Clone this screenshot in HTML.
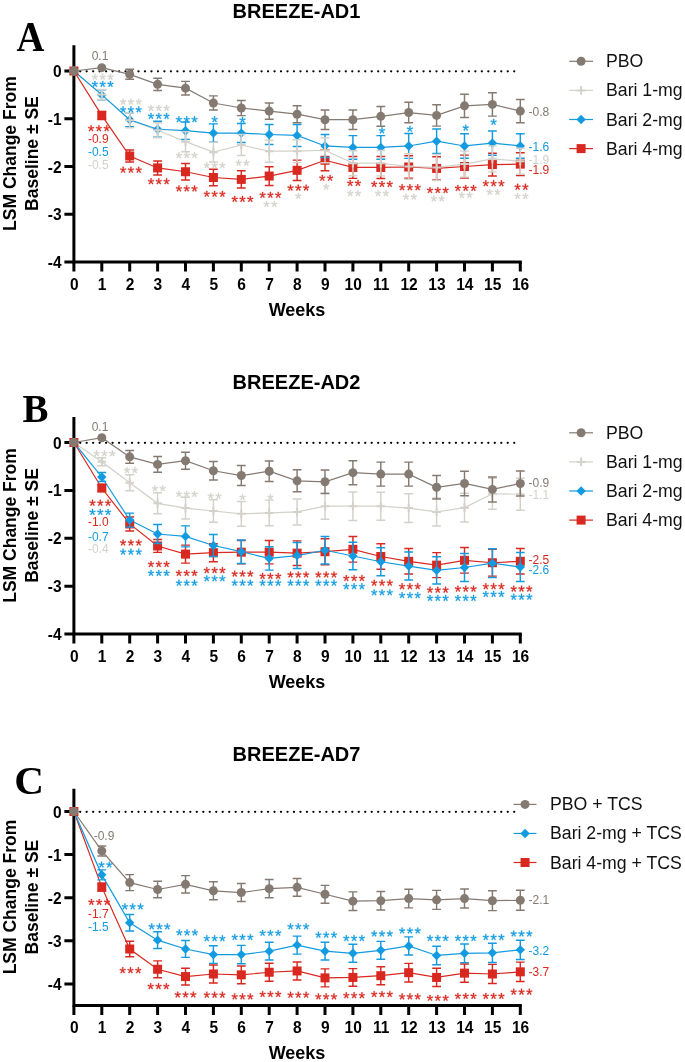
<!DOCTYPE html>
<html><head><meta charset="utf-8"><title>BREEZE</title>
<style>
html,body{margin:0;padding:0;background:#fff;}
svg{display:block;will-change:transform;}
text{font-family:"Liberation Sans",sans-serif;}
.tt{font-weight:bold;font-size:20px;fill:#000;}
.lt{font-family:"Liberation Serif",serif;font-weight:bold;font-size:40px;fill:#000;}
.yl{font-weight:bold;font-size:17.5px;fill:#000;}
.tk{font-weight:bold;font-size:15.5px;fill:#000;}
.wk{font-weight:bold;font-size:18px;fill:#000;}
.vl{font-size:12px;}
.lg{font-size:17.7px;fill:#111;}
</style></head>
<body>
<svg width="685" height="1062" viewBox="0 0 685 1062">
<defs><path id="st" stroke-width="40" stroke-linejoin="round" d="M456 1114 720 1217 765 1085 483 1012 668 762 549 690 399 948 243 692 124 764 313 1012 33 1085 78 1219 345 1112 333 1409H469Z" transform="scale(0.0082 -0.0082) translate(-399 -1050)"/></defs>
<rect width="685" height="1062" fill="#fff"/>
<text x="296.5" y="17.7" text-anchor="middle" class="tt">BREEZE-AD1</text>
<text transform="translate(16.5 51.4) scale(0.93 1)" class="lt" style="font-size:41.5px">A</text>
<text transform="translate(16.2 153.6) rotate(-90)" text-anchor="middle" class="yl">LSM Change From</text>
<text transform="translate(37.8 153.6) rotate(-90)" text-anchor="middle" class="yl">Baseline ± SE</text>
<path d="M73.9 45.2V263.5M72.4 262H521.8" stroke="#000" stroke-width="3" fill="none"/>
<path d="M73.9 262v9.5M101.8 262v9.5M129.7 262v9.5M157.6 262v9.5M185.5 262v9.5M213.4 262v9.5M241.3 262v9.5M269.2 262v9.5M297.1 262v9.5M325 262v9.5M352.9 262v9.5M380.8 262v9.5M408.7 262v9.5M436.6 262v9.5M464.5 262v9.5M492.4 262v9.5M520.3 262v9.5M73.9 71h-9.5M73.9 118.75h-9.5M73.9 166.5h-9.5M73.9 214.25h-9.5M73.9 262h-9.5" stroke="#000" stroke-width="3" fill="none"/>
<text transform="translate(74.2 289.6) scale(1 1.07)" text-anchor="middle" class="tk">0</text>
<text transform="translate(102.1 289.6) scale(1 1.07)" text-anchor="middle" class="tk">1</text>
<text transform="translate(130 289.6) scale(1 1.07)" text-anchor="middle" class="tk">2</text>
<text transform="translate(157.9 289.6) scale(1 1.07)" text-anchor="middle" class="tk">3</text>
<text transform="translate(185.8 289.6) scale(1 1.07)" text-anchor="middle" class="tk">4</text>
<text transform="translate(213.7 289.6) scale(1 1.07)" text-anchor="middle" class="tk">5</text>
<text transform="translate(241.6 289.6) scale(1 1.07)" text-anchor="middle" class="tk">6</text>
<text transform="translate(269.5 289.6) scale(1 1.07)" text-anchor="middle" class="tk">7</text>
<text transform="translate(297.4 289.6) scale(1 1.07)" text-anchor="middle" class="tk">8</text>
<text transform="translate(325.3 289.6) scale(1 1.07)" text-anchor="middle" class="tk">9</text>
<text transform="translate(353.2 289.6) scale(1 1.07)" text-anchor="middle" class="tk">10</text>
<text transform="translate(381.1 289.6) scale(1 1.07)" text-anchor="middle" class="tk">11</text>
<text transform="translate(409 289.6) scale(1 1.07)" text-anchor="middle" class="tk">12</text>
<text transform="translate(436.9 289.6) scale(1 1.07)" text-anchor="middle" class="tk">13</text>
<text transform="translate(464.8 289.6) scale(1 1.07)" text-anchor="middle" class="tk">14</text>
<text transform="translate(492.7 289.6) scale(1 1.07)" text-anchor="middle" class="tk">15</text>
<text transform="translate(520.6 289.6) scale(1 1.07)" text-anchor="middle" class="tk">16</text>
<text transform="translate(61.6 77) scale(1 1.07)" text-anchor="end" class="tk">0</text>
<text transform="translate(61.6 124.75) scale(1 1.07)" text-anchor="end" class="tk">-1</text>
<text transform="translate(61.6 172.5) scale(1 1.07)" text-anchor="end" class="tk">-2</text>
<text transform="translate(61.6 220.25) scale(1 1.07)" text-anchor="end" class="tk">-3</text>
<text transform="translate(61.6 268) scale(1 1.07)" text-anchor="end" class="tk">-4</text>
<text x="297" y="315.5" text-anchor="middle" class="wk">Weeks</text>
<path d="M80.2 71.3H515" stroke="#000" stroke-width="2.3" stroke-linecap="round" stroke-dasharray="0.01 6.468" fill="none"/>
<polyline points="73.9,71 101.8,115.41 129.7,156 157.6,167.93 185.5,171.75 213.4,177.48 241.3,179.39 269.2,176.05 297.1,170.32 325,160.29 352.9,167.45 380.8,167.45 408.7,166.98 436.6,168.41 464.5,166.5 492.4,164.59 520.3,164.11" stroke="#d8281f" stroke-width="1.2" fill="none"/>
<polyline points="73.9,71 101.8,94.4 129.7,120.18 157.6,130.21 185.5,141.67 213.4,152.18 241.3,145.01 269.2,151.22 297.1,151.22 325,150.26 352.9,163.16 380.8,163.16 408.7,166.5 436.6,167.45 464.5,164.11 492.4,158.86 520.3,161.25" stroke="#d3d1ca" stroke-width="1.2" fill="none"/>
<polyline points="73.9,71 101.8,94.88 129.7,119.7 157.6,129.25 185.5,130.69 213.4,133.07 241.3,133.07 269.2,134.51 297.1,135.46 325,145.97 352.9,147.4 380.8,147.4 408.7,145.97 436.6,141.19 464.5,145.97 492.4,143.1 520.3,145.97" stroke="#129be0" stroke-width="1.2" fill="none"/>
<polyline points="73.9,71 101.8,67.66 129.7,74.34 157.6,84.37 185.5,88.19 213.4,102.99 241.3,108.01 269.2,111.11 297.1,114.21 325,119.7 352.9,119.7 380.8,116.36 408.7,112.54 436.6,115.41 464.5,105.86 492.4,104.42 520.3,111.11" stroke="#857a72" stroke-width="1.2" fill="none"/>
<path d="M101.8 111.41V119.41M97.4 111.41h8.8M97.4 119.41h8.8M129.7 150.09V161.9M125.3 150.09h8.8M125.3 161.9h8.8M157.6 160.93V174.93M153.2 160.93h8.8M153.2 174.93h8.8M185.5 163.55V179.95M181.1 163.55h8.8M181.1 179.95h8.8M213.4 169.28V185.68M209 169.28h8.8M209 185.68h8.8M241.3 170.69V188.09M236.9 170.69h8.8M236.9 188.09h8.8M269.2 166.65V185.45M264.8 166.65h8.8M264.8 185.45h8.8M297.1 160.12V180.52M292.7 160.12h8.8M292.7 180.52h8.8M325 149.79V170.79M320.6 149.79h8.8M320.6 170.79h8.8M352.9 156.55V178.35M348.5 156.55h8.8M348.5 178.35h8.8M380.8 156.45V178.45M376.4 156.45h8.8M376.4 178.45h8.8M408.7 155.78V178.18M404.3 155.78h8.8M404.3 178.18h8.8M436.6 156.81V180.01M432.2 156.81h8.8M432.2 180.01h8.8M464.5 155.1V177.9M460.1 155.1h8.8M460.1 177.9h8.8M492.4 153.19V175.99M488 153.19h8.8M488 175.99h8.8M520.3 152.71V175.51M515.9 152.71h8.8M515.9 175.51h8.8" stroke="#d8281f" stroke-width="1.45" fill="none"/>
<rect x="69.4" y="66.5" width="9" height="9" fill="#d8281f"/>
<rect x="97.3" y="110.91" width="9" height="9" fill="#d8281f"/>
<rect x="125.2" y="151.5" width="9" height="9" fill="#d8281f"/>
<rect x="153.1" y="163.43" width="9" height="9" fill="#d8281f"/>
<rect x="181" y="167.25" width="9" height="9" fill="#d8281f"/>
<rect x="208.9" y="172.98" width="9" height="9" fill="#d8281f"/>
<rect x="236.8" y="174.89" width="9" height="9" fill="#d8281f"/>
<rect x="264.7" y="171.55" width="9" height="9" fill="#d8281f"/>
<rect x="292.6" y="165.82" width="9" height="9" fill="#d8281f"/>
<rect x="320.5" y="155.79" width="9" height="9" fill="#d8281f"/>
<rect x="348.4" y="162.95" width="9" height="9" fill="#d8281f"/>
<rect x="376.3" y="162.95" width="9" height="9" fill="#d8281f"/>
<rect x="404.2" y="162.48" width="9" height="9" fill="#d8281f"/>
<rect x="432.1" y="163.91" width="9" height="9" fill="#d8281f"/>
<rect x="460" y="162" width="9" height="9" fill="#d8281f"/>
<rect x="487.9" y="160.09" width="9" height="9" fill="#d8281f"/>
<rect x="515.8" y="159.61" width="9" height="9" fill="#d8281f"/>
<path d="M101.8 89.88V99.88M97.4 89.88h8.8M97.4 99.88h8.8M129.7 112.7V126.7M125.3 112.7h8.8M125.3 126.7h8.8M157.6 121.25V137.25M153.2 121.25h8.8M153.2 137.25h8.8M185.5 121.99V139.39M181.1 121.99h8.8M181.1 139.39h8.8M213.4 123.87V142.27M209 123.87h8.8M209 142.27h8.8M241.3 123.57V142.57M236.9 123.57h8.8M236.9 142.57h8.8M269.2 124.51V144.51M264.8 124.51h8.8M264.8 144.51h8.8M297.1 124.46V146.46M292.7 124.46h8.8M292.7 146.46h8.8M325 134.47V157.47M320.6 134.47h8.8M320.6 157.47h8.8M352.9 135.6V159.2M348.5 135.6h8.8M348.5 159.2h8.8M380.8 135.6V159.2M376.4 135.6h8.8M376.4 159.2h8.8M408.7 133.57V158.37M404.3 133.57h8.8M404.3 158.37h8.8M436.6 128.99V153.39M432.2 128.99h8.8M432.2 153.39h8.8M464.5 133.77V158.17M460.1 133.77h8.8M460.1 158.17h8.8M492.4 130.9V155.3M488 130.9h8.8M488 155.3h8.8M520.3 133.77V158.17M515.9 133.77h8.8M515.9 158.17h8.8" stroke="#129be0" stroke-width="1.45" fill="none"/>
<path d="M73.9 66.3L78.6 71L73.9 75.7L69.2 71Z" fill="#129be0"/>
<path d="M101.8 90.17L106.5 94.88L101.8 99.58L97.1 94.88Z" fill="#129be0"/>
<path d="M129.7 115L134.4 119.7L129.7 124.41L125 119.7Z" fill="#129be0"/>
<path d="M157.6 124.55L162.3 129.25L157.6 133.95L152.9 129.25Z" fill="#129be0"/>
<path d="M185.5 125.99L190.2 130.69L185.5 135.39L180.8 130.69Z" fill="#129be0"/>
<path d="M213.4 128.38L218.1 133.07L213.4 137.77L208.7 133.07Z" fill="#129be0"/>
<path d="M241.3 128.38L246 133.07L241.3 137.77L236.6 133.07Z" fill="#129be0"/>
<path d="M269.2 129.81L273.9 134.51L269.2 139.21L264.5 134.51Z" fill="#129be0"/>
<path d="M297.1 130.76L301.8 135.46L297.1 140.16L292.4 135.46Z" fill="#129be0"/>
<path d="M325 141.27L329.7 145.97L325 150.67L320.3 145.97Z" fill="#129be0"/>
<path d="M352.9 142.7L357.6 147.4L352.9 152.1L348.2 147.4Z" fill="#129be0"/>
<path d="M380.8 142.7L385.5 147.4L380.8 152.1L376.1 147.4Z" fill="#129be0"/>
<path d="M408.7 141.27L413.4 145.97L408.7 150.67L404 145.97Z" fill="#129be0"/>
<path d="M436.6 136.49L441.3 141.19L436.6 145.89L431.9 141.19Z" fill="#129be0"/>
<path d="M464.5 141.27L469.2 145.97L464.5 150.67L459.8 145.97Z" fill="#129be0"/>
<path d="M492.4 138.4L497.1 143.1L492.4 147.8L487.7 143.1Z" fill="#129be0"/>
<path d="M520.3 141.27L525 145.97L520.3 150.67L515.6 145.97Z" fill="#129be0"/>
<path d="M101.8 89.4V99.4M97.4 89.4h8.8M97.4 99.4h8.8M129.7 112.68V127.68M125.3 112.68h8.8M125.3 127.68h8.8M157.6 122.71V137.71M153.2 122.71h8.8M153.2 137.71h8.8M185.5 131.67V151.67M181.1 131.67h8.8M181.1 151.67h8.8M213.4 142.38V161.98M209 142.38h8.8M209 161.98h8.8M241.3 134.51V155.51M236.9 134.51h8.8M236.9 155.51h8.8M269.2 140.22V162.22M264.8 140.22h8.8M264.8 162.22h8.8M297.1 139.82V162.62M292.7 139.82h8.8M292.7 162.62h8.8M325 137.76V162.76M320.6 137.76h8.8M320.6 162.76h8.8M352.9 150.66V175.66M348.5 150.66h8.8M348.5 175.66h8.8M380.8 150.46V175.86M376.4 150.46h8.8M376.4 175.86h8.8M408.7 153.8V179.2M404.3 153.8h8.8M404.3 179.2h8.8M436.6 154.45V180.45M432.2 154.45h8.8M432.2 180.45h8.8M464.5 151.11V177.11M460.1 151.11h8.8M460.1 177.11h8.8M492.4 145.86V171.86M488 145.86h8.8M488 171.86h8.8M520.3 148.25V174.25M515.9 148.25h8.8M515.9 174.25h8.8" stroke="#d3d1ca" stroke-width="1.45" fill="none"/>
<path d="M69.6 71H78.2M73.9 66.7V75.3" stroke="#d3d1ca" stroke-width="2" fill="none"/>
<path d="M97.5 94.4H106.1M101.8 90.1V98.7" stroke="#d3d1ca" stroke-width="2" fill="none"/>
<path d="M125.4 120.18H134M129.7 115.88V124.48" stroke="#d3d1ca" stroke-width="2" fill="none"/>
<path d="M153.3 130.21H161.9M157.6 125.91V134.51" stroke="#d3d1ca" stroke-width="2" fill="none"/>
<path d="M181.2 141.67H189.8M185.5 137.37V145.97" stroke="#d3d1ca" stroke-width="2" fill="none"/>
<path d="M209.1 152.18H217.7M213.4 147.88V156.48" stroke="#d3d1ca" stroke-width="2" fill="none"/>
<path d="M237 145.01H245.6M241.3 140.71V149.31" stroke="#d3d1ca" stroke-width="2" fill="none"/>
<path d="M264.9 151.22H273.5M269.2 146.92V155.52" stroke="#d3d1ca" stroke-width="2" fill="none"/>
<path d="M292.8 151.22H301.4M297.1 146.92V155.52" stroke="#d3d1ca" stroke-width="2" fill="none"/>
<path d="M320.7 150.26H329.3M325 145.96V154.56" stroke="#d3d1ca" stroke-width="2" fill="none"/>
<path d="M348.6 163.16H357.2M352.9 158.86V167.46" stroke="#d3d1ca" stroke-width="2" fill="none"/>
<path d="M376.5 163.16H385.1M380.8 158.86V167.46" stroke="#d3d1ca" stroke-width="2" fill="none"/>
<path d="M404.4 166.5H413M408.7 162.2V170.8" stroke="#d3d1ca" stroke-width="2" fill="none"/>
<path d="M432.3 167.45H440.9M436.6 163.15V171.75" stroke="#d3d1ca" stroke-width="2" fill="none"/>
<path d="M460.2 164.11H468.8M464.5 159.81V168.41" stroke="#d3d1ca" stroke-width="2" fill="none"/>
<path d="M488.1 158.86H496.7M492.4 154.56V163.16" stroke="#d3d1ca" stroke-width="2" fill="none"/>
<path d="M516 161.25H524.6M520.3 156.95V165.55" stroke="#d3d1ca" stroke-width="2" fill="none"/>
<path d="M129.7 69.34V79.34M125.3 69.34h8.8M125.3 79.34h8.8M157.6 78.17V90.57M153.2 78.17h8.8M153.2 90.57h8.8M185.5 81.39V94.99M181.1 81.39h8.8M181.1 94.99h8.8M213.4 95.89V110.09M209 95.89h8.8M209 110.09h8.8M241.3 100.41V115.61M236.9 100.41h8.8M236.9 115.61h8.8M269.2 102.91V119.31M264.8 102.91h8.8M264.8 119.31h8.8M297.1 105.71V122.71M292.7 105.71h8.8M292.7 122.71h8.8M325 110V129.41M320.6 110h8.8M320.6 129.41h8.8M352.9 110V129.41M348.5 110h8.8M348.5 129.41h8.8M380.8 106.46V126.26M376.4 106.46h8.8M376.4 126.26h8.8M408.7 102.24V122.84M404.3 102.24h8.8M404.3 122.84h8.8M436.6 104.71V126.11M432.2 104.71h8.8M432.2 126.11h8.8M464.5 94.16V117.56M460.1 94.16h8.8M460.1 117.56h8.8M492.4 92.72V116.12M488 92.72h8.8M488 116.12h8.8M520.3 99.41V122.81M515.9 99.41h8.8M515.9 122.81h8.8" stroke="#857a72" stroke-width="1.45" fill="none"/>
<circle cx="73.9" cy="71" r="4.5" fill="#857a72"/>
<circle cx="101.8" cy="67.66" r="4.5" fill="#857a72"/>
<circle cx="129.7" cy="74.34" r="4.5" fill="#857a72"/>
<circle cx="157.6" cy="84.37" r="4.5" fill="#857a72"/>
<circle cx="185.5" cy="88.19" r="4.5" fill="#857a72"/>
<circle cx="213.4" cy="102.99" r="4.5" fill="#857a72"/>
<circle cx="241.3" cy="108.01" r="4.5" fill="#857a72"/>
<circle cx="269.2" cy="111.11" r="4.5" fill="#857a72"/>
<circle cx="297.1" cy="114.21" r="4.5" fill="#857a72"/>
<circle cx="325" cy="119.7" r="4.5" fill="#857a72"/>
<circle cx="352.9" cy="119.7" r="4.5" fill="#857a72"/>
<circle cx="380.8" cy="116.36" r="4.5" fill="#857a72"/>
<circle cx="408.7" cy="112.54" r="4.5" fill="#857a72"/>
<circle cx="436.6" cy="115.41" r="4.5" fill="#857a72"/>
<circle cx="464.5" cy="105.86" r="4.5" fill="#857a72"/>
<circle cx="492.4" cy="104.42" r="4.5" fill="#857a72"/>
<circle cx="520.3" cy="111.11" r="4.5" fill="#857a72"/>
<use href="#st" x="94.9" y="76.8" fill="#d3d1ca" stroke="#d3d1ca"/>
<use href="#st" x="102.7" y="76.8" fill="#d3d1ca" stroke="#d3d1ca"/>
<use href="#st" x="110.5" y="76.8" fill="#d3d1ca" stroke="#d3d1ca"/>
<use href="#st" x="94.9" y="84" fill="#129be0" stroke="#129be0"/>
<use href="#st" x="102.7" y="84" fill="#129be0" stroke="#129be0"/>
<use href="#st" x="110.5" y="84" fill="#129be0" stroke="#129be0"/>
<use href="#st" x="91.1" y="128.3" fill="#d8281f" stroke="#d8281f"/>
<use href="#st" x="98.9" y="128.3" fill="#d8281f" stroke="#d8281f"/>
<use href="#st" x="106.7" y="128.3" fill="#d8281f" stroke="#d8281f"/>
<use href="#st" x="123.1" y="101.7" fill="#d3d1ca" stroke="#d3d1ca"/>
<use href="#st" x="130.9" y="101.7" fill="#d3d1ca" stroke="#d3d1ca"/>
<use href="#st" x="138.7" y="101.7" fill="#d3d1ca" stroke="#d3d1ca"/>
<use href="#st" x="123.1" y="109.5" fill="#129be0" stroke="#129be0"/>
<use href="#st" x="130.9" y="109.5" fill="#129be0" stroke="#129be0"/>
<use href="#st" x="138.7" y="109.5" fill="#129be0" stroke="#129be0"/>
<use href="#st" x="123.1" y="169.8" fill="#d8281f" stroke="#d8281f"/>
<use href="#st" x="130.9" y="169.8" fill="#d8281f" stroke="#d8281f"/>
<use href="#st" x="138.7" y="169.8" fill="#d8281f" stroke="#d8281f"/>
<use href="#st" x="151" y="108" fill="#d3d1ca" stroke="#d3d1ca"/>
<use href="#st" x="158.8" y="108" fill="#d3d1ca" stroke="#d3d1ca"/>
<use href="#st" x="166.6" y="108" fill="#d3d1ca" stroke="#d3d1ca"/>
<use href="#st" x="151" y="116" fill="#129be0" stroke="#129be0"/>
<use href="#st" x="158.8" y="116" fill="#129be0" stroke="#129be0"/>
<use href="#st" x="166.6" y="116" fill="#129be0" stroke="#129be0"/>
<use href="#st" x="151" y="181.3" fill="#d8281f" stroke="#d8281f"/>
<use href="#st" x="158.8" y="181.3" fill="#d8281f" stroke="#d8281f"/>
<use href="#st" x="166.6" y="181.3" fill="#d8281f" stroke="#d8281f"/>
<use href="#st" x="178.9" y="119.3" fill="#129be0" stroke="#129be0"/>
<use href="#st" x="186.7" y="119.3" fill="#129be0" stroke="#129be0"/>
<use href="#st" x="194.5" y="119.3" fill="#129be0" stroke="#129be0"/>
<use href="#st" x="178.9" y="155.2" fill="#d3d1ca" stroke="#d3d1ca"/>
<use href="#st" x="186.7" y="155.2" fill="#d3d1ca" stroke="#d3d1ca"/>
<use href="#st" x="194.5" y="155.2" fill="#d3d1ca" stroke="#d3d1ca"/>
<use href="#st" x="178.9" y="188.5" fill="#d8281f" stroke="#d8281f"/>
<use href="#st" x="186.7" y="188.5" fill="#d8281f" stroke="#d8281f"/>
<use href="#st" x="194.5" y="188.5" fill="#d8281f" stroke="#d8281f"/>
<use href="#st" x="214.6" y="119.3" fill="#129be0" stroke="#129be0"/>
<use href="#st" x="206.8" y="165.3" fill="#d3d1ca" stroke="#d3d1ca"/>
<use href="#st" x="214.6" y="165.3" fill="#d3d1ca" stroke="#d3d1ca"/>
<use href="#st" x="222.4" y="165.3" fill="#d3d1ca" stroke="#d3d1ca"/>
<use href="#st" x="206.8" y="193.9" fill="#d8281f" stroke="#d8281f"/>
<use href="#st" x="214.6" y="193.9" fill="#d8281f" stroke="#d8281f"/>
<use href="#st" x="222.4" y="193.9" fill="#d8281f" stroke="#d8281f"/>
<use href="#st" x="242.5" y="119.9" fill="#129be0" stroke="#129be0"/>
<use href="#st" x="238.6" y="162.8" fill="#d3d1ca" stroke="#d3d1ca"/>
<use href="#st" x="246.4" y="162.8" fill="#d3d1ca" stroke="#d3d1ca"/>
<use href="#st" x="234.7" y="199" fill="#d8281f" stroke="#d8281f"/>
<use href="#st" x="242.5" y="199" fill="#d8281f" stroke="#d8281f"/>
<use href="#st" x="250.3" y="199" fill="#d8281f" stroke="#d8281f"/>
<use href="#st" x="262.6" y="194.9" fill="#d8281f" stroke="#d8281f"/>
<use href="#st" x="270.4" y="194.9" fill="#d8281f" stroke="#d8281f"/>
<use href="#st" x="278.2" y="194.9" fill="#d8281f" stroke="#d8281f"/>
<use href="#st" x="266.5" y="204.1" fill="#d3d1ca" stroke="#d3d1ca"/>
<use href="#st" x="274.3" y="204.1" fill="#d3d1ca" stroke="#d3d1ca"/>
<use href="#st" x="290.5" y="187.7" fill="#d8281f" stroke="#d8281f"/>
<use href="#st" x="298.3" y="187.7" fill="#d8281f" stroke="#d8281f"/>
<use href="#st" x="306.1" y="187.7" fill="#d8281f" stroke="#d8281f"/>
<use href="#st" x="298.3" y="195.9" fill="#d3d1ca" stroke="#d3d1ca"/>
<use href="#st" x="322.3" y="177.9" fill="#d8281f" stroke="#d8281f"/>
<use href="#st" x="330.1" y="177.9" fill="#d8281f" stroke="#d8281f"/>
<use href="#st" x="326.2" y="186.7" fill="#d3d1ca" stroke="#d3d1ca"/>
<use href="#st" x="350.2" y="183" fill="#d8281f" stroke="#d8281f"/>
<use href="#st" x="358" y="183" fill="#d8281f" stroke="#d8281f"/>
<use href="#st" x="350.2" y="193.2" fill="#d3d1ca" stroke="#d3d1ca"/>
<use href="#st" x="358" y="193.2" fill="#d3d1ca" stroke="#d3d1ca"/>
<use href="#st" x="382" y="130.5" fill="#129be0" stroke="#129be0"/>
<use href="#st" x="374.2" y="184" fill="#d8281f" stroke="#d8281f"/>
<use href="#st" x="382" y="184" fill="#d8281f" stroke="#d8281f"/>
<use href="#st" x="389.8" y="184" fill="#d8281f" stroke="#d8281f"/>
<use href="#st" x="378.1" y="193.2" fill="#d3d1ca" stroke="#d3d1ca"/>
<use href="#st" x="385.9" y="193.2" fill="#d3d1ca" stroke="#d3d1ca"/>
<use href="#st" x="409.9" y="128.9" fill="#129be0" stroke="#129be0"/>
<use href="#st" x="402.1" y="187.3" fill="#d8281f" stroke="#d8281f"/>
<use href="#st" x="409.9" y="187.3" fill="#d8281f" stroke="#d8281f"/>
<use href="#st" x="417.7" y="187.3" fill="#d8281f" stroke="#d8281f"/>
<use href="#st" x="406" y="196.7" fill="#d3d1ca" stroke="#d3d1ca"/>
<use href="#st" x="413.8" y="196.7" fill="#d3d1ca" stroke="#d3d1ca"/>
<use href="#st" x="430" y="190.1" fill="#d8281f" stroke="#d8281f"/>
<use href="#st" x="437.8" y="190.1" fill="#d8281f" stroke="#d8281f"/>
<use href="#st" x="445.6" y="190.1" fill="#d8281f" stroke="#d8281f"/>
<use href="#st" x="433.9" y="198.5" fill="#d3d1ca" stroke="#d3d1ca"/>
<use href="#st" x="441.7" y="198.5" fill="#d3d1ca" stroke="#d3d1ca"/>
<use href="#st" x="465.7" y="127.7" fill="#129be0" stroke="#129be0"/>
<use href="#st" x="457.9" y="188" fill="#d8281f" stroke="#d8281f"/>
<use href="#st" x="465.7" y="188" fill="#d8281f" stroke="#d8281f"/>
<use href="#st" x="473.5" y="188" fill="#d8281f" stroke="#d8281f"/>
<use href="#st" x="461.8" y="195" fill="#d3d1ca" stroke="#d3d1ca"/>
<use href="#st" x="469.6" y="195" fill="#d3d1ca" stroke="#d3d1ca"/>
<use href="#st" x="493.6" y="121.9" fill="#129be0" stroke="#129be0"/>
<use href="#st" x="485.8" y="183.3" fill="#d8281f" stroke="#d8281f"/>
<use href="#st" x="493.6" y="183.3" fill="#d8281f" stroke="#d8281f"/>
<use href="#st" x="501.4" y="183.3" fill="#d8281f" stroke="#d8281f"/>
<use href="#st" x="489.7" y="192" fill="#d3d1ca" stroke="#d3d1ca"/>
<use href="#st" x="497.5" y="192" fill="#d3d1ca" stroke="#d3d1ca"/>
<use href="#st" x="517.6" y="186.8" fill="#d8281f" stroke="#d8281f"/>
<use href="#st" x="525.4" y="186.8" fill="#d8281f" stroke="#d8281f"/>
<use href="#st" x="517.6" y="196" fill="#d3d1ca" stroke="#d3d1ca"/>
<use href="#st" x="525.4" y="196" fill="#d3d1ca" stroke="#d3d1ca"/>
<text x="100" y="59.5" text-anchor="middle" class="vl" fill="#857a72">0.1</text>
<text x="98.3" y="142.8" text-anchor="middle" class="vl" fill="#d8281f">-0.9</text>
<text x="98.3" y="156.1" text-anchor="middle" class="vl" fill="#129be0">-0.5</text>
<text x="98.3" y="168.9" text-anchor="middle" class="vl" fill="#d3d1ca">-0.5</text>
<text x="528.6" y="116.1" class="vl" fill="#857a72">-0.8</text>
<text x="528.6" y="150.9" class="vl" fill="#129be0">-1.6</text>
<text x="528.6" y="164.2" class="vl" fill="#d3d1ca">-1.9</text>
<text x="528.6" y="173.9" class="vl" fill="#d8281f">-1.9</text>
<path d="M569.2 61.3H593" stroke="#857a72" stroke-width="1.2"/>
<circle cx="581.1" cy="61.3" r="4.5" fill="#857a72"/>
<text x="606" y="67.3" class="lg">PBO</text>
<path d="M569.2 90.4H593" stroke="#d3d1ca" stroke-width="1.2"/>
<path d="M576.8 90.4H585.4M581.1 86.1V94.7" stroke="#d3d1ca" stroke-width="2" fill="none"/>
<text x="606" y="96.4" class="lg">Bari 1-mg</text>
<path d="M569.2 119.5H593" stroke="#129be0" stroke-width="1.2"/>
<path d="M581.1 114.8L585.8 119.5L581.1 124.2L576.4 119.5Z" fill="#129be0"/>
<text x="606" y="125.5" class="lg">Bari 2-mg</text>
<path d="M569.2 148.6H593" stroke="#d8281f" stroke-width="1.2"/>
<rect x="576.6" y="144.1" width="9" height="9" fill="#d8281f"/>
<text x="606" y="154.6" class="lg">Bari 4-mg</text>
<text x="296.5" y="389.3" text-anchor="middle" class="tt">BREEZE-AD2</text>
<text transform="translate(22.6 421.9) scale(0.95 1)" class="lt" style="font-size:41px">B</text>
<text transform="translate(16.2 525.45) rotate(-90)" text-anchor="middle" class="yl">LSM Change From</text>
<text transform="translate(37.8 525.45) rotate(-90)" text-anchor="middle" class="yl">Baseline ± SE</text>
<path d="M73.9 416.9V635.5M72.4 634H521.8" stroke="#000" stroke-width="3" fill="none"/>
<path d="M73.9 634v9.5M101.8 634v9.5M129.7 634v9.5M157.6 634v9.5M185.5 634v9.5M213.4 634v9.5M241.3 634v9.5M269.2 634v9.5M297.1 634v9.5M325 634v9.5M352.9 634v9.5M380.8 634v9.5M408.7 634v9.5M436.6 634v9.5M464.5 634v9.5M492.4 634v9.5M520.3 634v9.5M73.9 442.5h-9.5M73.9 490.4h-9.5M73.9 538.3h-9.5M73.9 586.2h-9.5M73.9 634.1h-9.5" stroke="#000" stroke-width="3" fill="none"/>
<text transform="translate(74.2 661.6) scale(1 1.07)" text-anchor="middle" class="tk">0</text>
<text transform="translate(102.1 661.6) scale(1 1.07)" text-anchor="middle" class="tk">1</text>
<text transform="translate(130 661.6) scale(1 1.07)" text-anchor="middle" class="tk">2</text>
<text transform="translate(157.9 661.6) scale(1 1.07)" text-anchor="middle" class="tk">3</text>
<text transform="translate(185.8 661.6) scale(1 1.07)" text-anchor="middle" class="tk">4</text>
<text transform="translate(213.7 661.6) scale(1 1.07)" text-anchor="middle" class="tk">5</text>
<text transform="translate(241.6 661.6) scale(1 1.07)" text-anchor="middle" class="tk">6</text>
<text transform="translate(269.5 661.6) scale(1 1.07)" text-anchor="middle" class="tk">7</text>
<text transform="translate(297.4 661.6) scale(1 1.07)" text-anchor="middle" class="tk">8</text>
<text transform="translate(325.3 661.6) scale(1 1.07)" text-anchor="middle" class="tk">9</text>
<text transform="translate(353.2 661.6) scale(1 1.07)" text-anchor="middle" class="tk">10</text>
<text transform="translate(381.1 661.6) scale(1 1.07)" text-anchor="middle" class="tk">11</text>
<text transform="translate(409 661.6) scale(1 1.07)" text-anchor="middle" class="tk">12</text>
<text transform="translate(436.9 661.6) scale(1 1.07)" text-anchor="middle" class="tk">13</text>
<text transform="translate(464.8 661.6) scale(1 1.07)" text-anchor="middle" class="tk">14</text>
<text transform="translate(492.7 661.6) scale(1 1.07)" text-anchor="middle" class="tk">15</text>
<text transform="translate(520.6 661.6) scale(1 1.07)" text-anchor="middle" class="tk">16</text>
<text transform="translate(61.6 448.5) scale(1 1.07)" text-anchor="end" class="tk">0</text>
<text transform="translate(61.6 496.4) scale(1 1.07)" text-anchor="end" class="tk">-1</text>
<text transform="translate(61.6 544.3) scale(1 1.07)" text-anchor="end" class="tk">-2</text>
<text transform="translate(61.6 592.2) scale(1 1.07)" text-anchor="end" class="tk">-3</text>
<text transform="translate(61.6 640.1) scale(1 1.07)" text-anchor="end" class="tk">-4</text>
<text x="297" y="687.5" text-anchor="middle" class="wk">Weeks</text>
<path d="M80.2 442.8H515" stroke="#000" stroke-width="2.3" stroke-linecap="round" stroke-dasharray="0.01 6.468" fill="none"/>
<polyline points="73.9,442.5 101.8,488 129.7,523.93 157.6,545.96 185.5,554.11 213.4,552.67 241.3,552.19 269.2,552.19 297.1,553.15 325,551.71 352.9,549.32 380.8,556.5 408.7,561.29 436.6,565.12 464.5,560.33 492.4,562.73 520.3,561.29" stroke="#d8281f" stroke-width="1.2" fill="none"/>
<polyline points="73.9,442.5 101.8,461.66 129.7,482.74 157.6,503.33 185.5,508.12 213.4,511 241.3,513.87 269.2,512.91 297.1,511.95 325,506.21 352.9,506.21 380.8,506.21 408.7,508.12 436.6,511.95 464.5,507.64 492.4,493.75 520.3,494.23" stroke="#d3d1ca" stroke-width="1.2" fill="none"/>
<polyline points="73.9,442.5 101.8,476.99 129.7,520.1 157.6,533.99 185.5,536.38 213.4,545.49 241.3,551.71 269.2,558.42 297.1,555.54 325,550.27 352.9,556.02 380.8,561.77 408.7,566.08 436.6,570.39 464.5,567.52 492.4,563.21 520.3,567.04" stroke="#129be0" stroke-width="1.2" fill="none"/>
<polyline points="73.9,442.5 101.8,437.71 129.7,456.87 157.6,464.39 185.5,460.7 213.4,470.76 241.3,475.55 269.2,471.24 297.1,480.82 325,481.78 352.9,472.68 380.8,474.11 408.7,474.11 436.6,487.29 464.5,483.45 492.4,489.44 520.3,483.45" stroke="#857a72" stroke-width="1.2" fill="none"/>
<path d="M101.8 484.5V491.5M97.4 484.5h8.8M97.4 491.5h8.8M129.7 516.93V530.93M125.3 516.93h8.8M125.3 530.93h8.8M157.6 539.56V552.36M153.2 539.56h8.8M153.2 552.36h8.8M185.5 545.11V563.11M181.1 545.11h8.8M181.1 563.11h8.8M213.4 543.67V561.67M209 543.67h8.8M209 561.67h8.8M241.3 540.49V563.89M236.9 540.49h8.8M236.9 563.89h8.8M269.2 540.49V563.89M264.8 540.49h8.8M264.8 563.89h8.8M297.1 540.85V565.45M292.7 540.85h8.8M292.7 565.45h8.8M325 538.71V564.71M320.6 538.71h8.8M320.6 564.71h8.8M352.9 536.52V562.12M348.5 536.52h8.8M348.5 562.12h8.8M380.8 543.8V569.2M376.4 543.8h8.8M376.4 569.2h8.8M408.7 548.49V574.09M404.3 548.49h8.8M404.3 574.09h8.8M436.6 552.62V577.62M432.2 552.62h8.8M432.2 577.62h8.8M464.5 547.53V573.13M460.1 547.53h8.8M460.1 573.13h8.8M492.4 549.33V576.13M488 549.33h8.8M488 576.13h8.8M520.3 548.49V574.09M515.9 548.49h8.8M515.9 574.09h8.8" stroke="#d8281f" stroke-width="1.45" fill="none"/>
<rect x="69.4" y="438" width="9" height="9" fill="#d8281f"/>
<rect x="97.3" y="483.5" width="9" height="9" fill="#d8281f"/>
<rect x="125.2" y="519.43" width="9" height="9" fill="#d8281f"/>
<rect x="153.1" y="541.46" width="9" height="9" fill="#d8281f"/>
<rect x="181" y="549.61" width="9" height="9" fill="#d8281f"/>
<rect x="208.9" y="548.17" width="9" height="9" fill="#d8281f"/>
<rect x="236.8" y="547.69" width="9" height="9" fill="#d8281f"/>
<rect x="264.7" y="547.69" width="9" height="9" fill="#d8281f"/>
<rect x="292.6" y="548.65" width="9" height="9" fill="#d8281f"/>
<rect x="320.5" y="547.21" width="9" height="9" fill="#d8281f"/>
<rect x="348.4" y="544.82" width="9" height="9" fill="#d8281f"/>
<rect x="376.3" y="552" width="9" height="9" fill="#d8281f"/>
<rect x="404.2" y="556.79" width="9" height="9" fill="#d8281f"/>
<rect x="432.1" y="560.62" width="9" height="9" fill="#d8281f"/>
<rect x="460" y="555.83" width="9" height="9" fill="#d8281f"/>
<rect x="487.9" y="558.23" width="9" height="9" fill="#d8281f"/>
<rect x="515.8" y="556.79" width="9" height="9" fill="#d8281f"/>
<path d="M101.8 472.49V481.49M97.4 472.49h8.8M97.4 481.49h8.8M129.7 513.1V527.1M125.3 513.1h8.8M125.3 527.1h8.8M157.6 524.49V543.49M153.2 524.49h8.8M153.2 543.49h8.8M185.5 525.88V546.88M181.1 525.88h8.8M181.1 546.88h8.8M213.4 534.49V556.49M209 534.49h8.8M209 556.49h8.8M241.3 540.01V563.41M236.9 540.01h8.8M236.9 563.41h8.8M269.2 546.72V570.12M264.8 546.72h8.8M264.8 570.12h8.8M297.1 542.54V568.54M292.7 542.54h8.8M292.7 568.54h8.8M325 536.57V563.98M320.6 536.57h8.8M320.6 563.98h8.8M352.9 542.32V569.72M348.5 542.32h8.8M348.5 569.72h8.8M380.8 547.77V575.77M376.4 547.77h8.8M376.4 575.77h8.8M408.7 552.08V580.08M404.3 552.08h8.8M404.3 580.08h8.8M436.6 556.69V584.09M432.2 556.69h8.8M432.2 584.09h8.8M464.5 553.52V581.52M460.1 553.52h8.8M460.1 581.52h8.8M492.4 548.81V577.61M488 548.81h8.8M488 577.61h8.8M520.3 552.54V581.54M515.9 552.54h8.8M515.9 581.54h8.8" stroke="#129be0" stroke-width="1.45" fill="none"/>
<path d="M73.9 437.8L78.6 442.5L73.9 447.2L69.2 442.5Z" fill="#129be0"/>
<path d="M101.8 472.29L106.5 476.99L101.8 481.69L97.1 476.99Z" fill="#129be0"/>
<path d="M129.7 515.4L134.4 520.1L129.7 524.8L125 520.1Z" fill="#129be0"/>
<path d="M157.6 529.29L162.3 533.99L157.6 538.69L152.9 533.99Z" fill="#129be0"/>
<path d="M185.5 531.68L190.2 536.38L185.5 541.08L180.8 536.38Z" fill="#129be0"/>
<path d="M213.4 540.78L218.1 545.49L213.4 550.19L208.7 545.49Z" fill="#129be0"/>
<path d="M241.3 547.01L246 551.71L241.3 556.41L236.6 551.71Z" fill="#129be0"/>
<path d="M269.2 553.72L273.9 558.42L269.2 563.12L264.5 558.42Z" fill="#129be0"/>
<path d="M297.1 550.84L301.8 555.54L297.1 560.24L292.4 555.54Z" fill="#129be0"/>
<path d="M325 545.57L329.7 550.27L325 554.98L320.3 550.27Z" fill="#129be0"/>
<path d="M352.9 551.32L357.6 556.02L352.9 560.72L348.2 556.02Z" fill="#129be0"/>
<path d="M380.8 557.07L385.5 561.77L380.8 566.47L376.1 561.77Z" fill="#129be0"/>
<path d="M408.7 561.38L413.4 566.08L408.7 570.78L404 566.08Z" fill="#129be0"/>
<path d="M436.6 565.69L441.3 570.39L436.6 575.09L431.9 570.39Z" fill="#129be0"/>
<path d="M464.5 562.82L469.2 567.52L464.5 572.22L459.8 567.52Z" fill="#129be0"/>
<path d="M492.4 558.51L497.1 563.21L492.4 567.91L487.7 563.21Z" fill="#129be0"/>
<path d="M520.3 562.34L525 567.04L520.3 571.74L515.6 567.04Z" fill="#129be0"/>
<path d="M101.8 457.66V465.66M97.4 457.66h8.8M97.4 465.66h8.8M129.7 474.74V490.74M125.3 474.74h8.8M125.3 490.74h8.8M157.6 492.83V513.83M153.2 492.83h8.8M153.2 513.83h8.8M185.5 497.22V519.02M181.1 497.22h8.8M181.1 519.02h8.8M213.4 499.7V522.3M209 499.7h8.8M209 522.3h8.8M241.3 501.57V526.17M236.9 501.57h8.8M236.9 526.17h8.8M269.2 500.11V525.71M264.8 500.11h8.8M264.8 525.71h8.8M297.1 498.95V524.95M292.7 498.95h8.8M292.7 524.95h8.8M325 493.21V519.21M320.6 493.21h8.8M320.6 519.21h8.8M352.9 491.91V520.51M348.5 491.91h8.8M348.5 520.51h8.8M380.8 492.21V520.21M376.4 492.21h8.8M376.4 520.21h8.8M408.7 493.82V522.42M404.3 493.82h8.8M404.3 522.42h8.8M436.6 497.95V525.95M432.2 497.95h8.8M432.2 525.95h8.8M464.5 493.34V521.94M460.1 493.34h8.8M460.1 521.94h8.8M492.4 478.25V509.25M488 478.25h8.8M488 509.25h8.8M520.3 478.23V510.23M515.9 478.23h8.8M515.9 510.23h8.8" stroke="#d3d1ca" stroke-width="1.45" fill="none"/>
<path d="M69.6 442.5H78.2M73.9 438.2V446.8" stroke="#d3d1ca" stroke-width="2" fill="none"/>
<path d="M97.5 461.66H106.1M101.8 457.36V465.96" stroke="#d3d1ca" stroke-width="2" fill="none"/>
<path d="M125.4 482.74H134M129.7 478.44V487.04" stroke="#d3d1ca" stroke-width="2" fill="none"/>
<path d="M153.3 503.33H161.9M157.6 499.03V507.63" stroke="#d3d1ca" stroke-width="2" fill="none"/>
<path d="M181.2 508.12H189.8M185.5 503.82V512.42" stroke="#d3d1ca" stroke-width="2" fill="none"/>
<path d="M209.1 511H217.7M213.4 506.7V515.3" stroke="#d3d1ca" stroke-width="2" fill="none"/>
<path d="M237 513.87H245.6M241.3 509.57V518.17" stroke="#d3d1ca" stroke-width="2" fill="none"/>
<path d="M264.9 512.91H273.5M269.2 508.61V517.21" stroke="#d3d1ca" stroke-width="2" fill="none"/>
<path d="M292.8 511.95H301.4M297.1 507.65V516.25" stroke="#d3d1ca" stroke-width="2" fill="none"/>
<path d="M320.7 506.21H329.3M325 501.91V510.51" stroke="#d3d1ca" stroke-width="2" fill="none"/>
<path d="M348.6 506.21H357.2M352.9 501.91V510.51" stroke="#d3d1ca" stroke-width="2" fill="none"/>
<path d="M376.5 506.21H385.1M380.8 501.91V510.51" stroke="#d3d1ca" stroke-width="2" fill="none"/>
<path d="M404.4 508.12H413M408.7 503.82V512.42" stroke="#d3d1ca" stroke-width="2" fill="none"/>
<path d="M432.3 511.95H440.9M436.6 507.65V516.25" stroke="#d3d1ca" stroke-width="2" fill="none"/>
<path d="M460.2 507.64H468.8M464.5 503.34V511.94" stroke="#d3d1ca" stroke-width="2" fill="none"/>
<path d="M488.1 493.75H496.7M492.4 489.45V498.05" stroke="#d3d1ca" stroke-width="2" fill="none"/>
<path d="M516 494.23H524.6M520.3 489.93V498.53" stroke="#d3d1ca" stroke-width="2" fill="none"/>
<path d="M129.7 450.57V463.17M125.3 450.57h8.8M125.3 463.17h8.8M157.6 456.59V472.19M153.2 456.59h8.8M153.2 472.19h8.8M185.5 452.2V469.2M181.1 452.2h8.8M181.1 469.2h8.8M213.4 461.46V480.06M209 461.46h8.8M209 480.06h8.8M241.3 465.55V485.55M236.9 465.55h8.8M236.9 485.55h8.8M269.2 461.04V481.44M264.8 461.04h8.8M264.8 481.44h8.8M297.1 469.82V491.82M292.7 469.82h8.8M292.7 491.82h8.8M325 470.08V493.48M320.6 470.08h8.8M320.6 493.48h8.8M352.9 460.68V484.68M348.5 460.68h8.8M348.5 484.68h8.8M380.8 462.11V486.11M376.4 462.11h8.8M376.4 486.11h8.8M408.7 462.11V486.11M404.3 462.11h8.8M404.3 486.11h8.8M436.6 475.59V498.99M432.2 475.59h8.8M432.2 498.99h8.8M464.5 471.15V495.75M460.1 471.15h8.8M460.1 495.75h8.8M492.4 476.94V501.94M488 476.94h8.8M488 501.94h8.8M520.3 470.95V495.95M515.9 470.95h8.8M515.9 495.95h8.8" stroke="#857a72" stroke-width="1.45" fill="none"/>
<circle cx="73.9" cy="442.5" r="4.5" fill="#857a72"/>
<circle cx="101.8" cy="437.71" r="4.5" fill="#857a72"/>
<circle cx="129.7" cy="456.87" r="4.5" fill="#857a72"/>
<circle cx="157.6" cy="464.39" r="4.5" fill="#857a72"/>
<circle cx="185.5" cy="460.7" r="4.5" fill="#857a72"/>
<circle cx="213.4" cy="470.76" r="4.5" fill="#857a72"/>
<circle cx="241.3" cy="475.55" r="4.5" fill="#857a72"/>
<circle cx="269.2" cy="471.24" r="4.5" fill="#857a72"/>
<circle cx="297.1" cy="480.82" r="4.5" fill="#857a72"/>
<circle cx="325" cy="481.78" r="4.5" fill="#857a72"/>
<circle cx="352.9" cy="472.68" r="4.5" fill="#857a72"/>
<circle cx="380.8" cy="474.11" r="4.5" fill="#857a72"/>
<circle cx="408.7" cy="474.11" r="4.5" fill="#857a72"/>
<circle cx="436.6" cy="487.29" r="4.5" fill="#857a72"/>
<circle cx="464.5" cy="483.45" r="4.5" fill="#857a72"/>
<circle cx="492.4" cy="489.44" r="4.5" fill="#857a72"/>
<circle cx="520.3" cy="483.45" r="4.5" fill="#857a72"/>
<use href="#st" x="96.7" y="453.3" fill="#d3d1ca" stroke="#d3d1ca"/>
<use href="#st" x="104.5" y="453.3" fill="#d3d1ca" stroke="#d3d1ca"/>
<use href="#st" x="112.3" y="453.3" fill="#d3d1ca" stroke="#d3d1ca"/>
<use href="#st" x="92.5" y="502.8" fill="#d8281f" stroke="#d8281f"/>
<use href="#st" x="100.3" y="502.8" fill="#d8281f" stroke="#d8281f"/>
<use href="#st" x="108.1" y="502.8" fill="#d8281f" stroke="#d8281f"/>
<use href="#st" x="92.5" y="512" fill="#129be0" stroke="#129be0"/>
<use href="#st" x="100.3" y="512" fill="#129be0" stroke="#129be0"/>
<use href="#st" x="108.1" y="512" fill="#129be0" stroke="#129be0"/>
<use href="#st" x="127" y="470.1" fill="#d3d1ca" stroke="#d3d1ca"/>
<use href="#st" x="134.8" y="470.1" fill="#d3d1ca" stroke="#d3d1ca"/>
<use href="#st" x="123.1" y="542.6" fill="#d8281f" stroke="#d8281f"/>
<use href="#st" x="130.9" y="542.6" fill="#d8281f" stroke="#d8281f"/>
<use href="#st" x="138.7" y="542.6" fill="#d8281f" stroke="#d8281f"/>
<use href="#st" x="123.1" y="551.8" fill="#129be0" stroke="#129be0"/>
<use href="#st" x="130.9" y="551.8" fill="#129be0" stroke="#129be0"/>
<use href="#st" x="138.7" y="551.8" fill="#129be0" stroke="#129be0"/>
<use href="#st" x="154.9" y="488.4" fill="#d3d1ca" stroke="#d3d1ca"/>
<use href="#st" x="162.7" y="488.4" fill="#d3d1ca" stroke="#d3d1ca"/>
<use href="#st" x="151" y="564.1" fill="#d8281f" stroke="#d8281f"/>
<use href="#st" x="158.8" y="564.1" fill="#d8281f" stroke="#d8281f"/>
<use href="#st" x="166.6" y="564.1" fill="#d8281f" stroke="#d8281f"/>
<use href="#st" x="151" y="573" fill="#129be0" stroke="#129be0"/>
<use href="#st" x="158.8" y="573" fill="#129be0" stroke="#129be0"/>
<use href="#st" x="166.6" y="573" fill="#129be0" stroke="#129be0"/>
<use href="#st" x="178.9" y="494" fill="#d3d1ca" stroke="#d3d1ca"/>
<use href="#st" x="186.7" y="494" fill="#d3d1ca" stroke="#d3d1ca"/>
<use href="#st" x="194.5" y="494" fill="#d3d1ca" stroke="#d3d1ca"/>
<use href="#st" x="178.9" y="573" fill="#d8281f" stroke="#d8281f"/>
<use href="#st" x="186.7" y="573" fill="#d8281f" stroke="#d8281f"/>
<use href="#st" x="194.5" y="573" fill="#d8281f" stroke="#d8281f"/>
<use href="#st" x="178.9" y="582.8" fill="#129be0" stroke="#129be0"/>
<use href="#st" x="186.7" y="582.8" fill="#129be0" stroke="#129be0"/>
<use href="#st" x="194.5" y="582.8" fill="#129be0" stroke="#129be0"/>
<use href="#st" x="210.7" y="495.9" fill="#d3d1ca" stroke="#d3d1ca"/>
<use href="#st" x="218.5" y="495.9" fill="#d3d1ca" stroke="#d3d1ca"/>
<use href="#st" x="206.8" y="570.2" fill="#d8281f" stroke="#d8281f"/>
<use href="#st" x="214.6" y="570.2" fill="#d8281f" stroke="#d8281f"/>
<use href="#st" x="222.4" y="570.2" fill="#d8281f" stroke="#d8281f"/>
<use href="#st" x="206.8" y="578.4" fill="#129be0" stroke="#129be0"/>
<use href="#st" x="214.6" y="578.4" fill="#129be0" stroke="#129be0"/>
<use href="#st" x="222.4" y="578.4" fill="#129be0" stroke="#129be0"/>
<use href="#st" x="242.5" y="497.1" fill="#d3d1ca" stroke="#d3d1ca"/>
<use href="#st" x="234.7" y="573.7" fill="#d8281f" stroke="#d8281f"/>
<use href="#st" x="242.5" y="573.7" fill="#d8281f" stroke="#d8281f"/>
<use href="#st" x="250.3" y="573.7" fill="#d8281f" stroke="#d8281f"/>
<use href="#st" x="234.7" y="582.8" fill="#129be0" stroke="#129be0"/>
<use href="#st" x="242.5" y="582.8" fill="#129be0" stroke="#129be0"/>
<use href="#st" x="250.3" y="582.8" fill="#129be0" stroke="#129be0"/>
<use href="#st" x="270.4" y="497.1" fill="#d3d1ca" stroke="#d3d1ca"/>
<use href="#st" x="262.6" y="576" fill="#d8281f" stroke="#d8281f"/>
<use href="#st" x="270.4" y="576" fill="#d8281f" stroke="#d8281f"/>
<use href="#st" x="278.2" y="576" fill="#d8281f" stroke="#d8281f"/>
<use href="#st" x="262.6" y="582.8" fill="#129be0" stroke="#129be0"/>
<use href="#st" x="270.4" y="582.8" fill="#129be0" stroke="#129be0"/>
<use href="#st" x="278.2" y="582.8" fill="#129be0" stroke="#129be0"/>
<use href="#st" x="290.5" y="574.6" fill="#d8281f" stroke="#d8281f"/>
<use href="#st" x="298.3" y="574.6" fill="#d8281f" stroke="#d8281f"/>
<use href="#st" x="306.1" y="574.6" fill="#d8281f" stroke="#d8281f"/>
<use href="#st" x="290.5" y="582.8" fill="#129be0" stroke="#129be0"/>
<use href="#st" x="298.3" y="582.8" fill="#129be0" stroke="#129be0"/>
<use href="#st" x="306.1" y="582.8" fill="#129be0" stroke="#129be0"/>
<use href="#st" x="318.4" y="574.6" fill="#d8281f" stroke="#d8281f"/>
<use href="#st" x="326.2" y="574.6" fill="#d8281f" stroke="#d8281f"/>
<use href="#st" x="334" y="574.6" fill="#d8281f" stroke="#d8281f"/>
<use href="#st" x="318.4" y="582.8" fill="#129be0" stroke="#129be0"/>
<use href="#st" x="326.2" y="582.8" fill="#129be0" stroke="#129be0"/>
<use href="#st" x="334" y="582.8" fill="#129be0" stroke="#129be0"/>
<use href="#st" x="346.3" y="578.1" fill="#d8281f" stroke="#d8281f"/>
<use href="#st" x="354.1" y="578.1" fill="#d8281f" stroke="#d8281f"/>
<use href="#st" x="361.9" y="578.1" fill="#d8281f" stroke="#d8281f"/>
<use href="#st" x="346.3" y="586.3" fill="#129be0" stroke="#129be0"/>
<use href="#st" x="354.1" y="586.3" fill="#129be0" stroke="#129be0"/>
<use href="#st" x="361.9" y="586.3" fill="#129be0" stroke="#129be0"/>
<use href="#st" x="374.2" y="582.8" fill="#d8281f" stroke="#d8281f"/>
<use href="#st" x="382" y="582.8" fill="#d8281f" stroke="#d8281f"/>
<use href="#st" x="389.8" y="582.8" fill="#d8281f" stroke="#d8281f"/>
<use href="#st" x="374.2" y="592.4" fill="#129be0" stroke="#129be0"/>
<use href="#st" x="382" y="592.4" fill="#129be0" stroke="#129be0"/>
<use href="#st" x="389.8" y="592.4" fill="#129be0" stroke="#129be0"/>
<use href="#st" x="402.1" y="586.3" fill="#d8281f" stroke="#d8281f"/>
<use href="#st" x="409.9" y="586.3" fill="#d8281f" stroke="#d8281f"/>
<use href="#st" x="417.7" y="586.3" fill="#d8281f" stroke="#d8281f"/>
<use href="#st" x="402.1" y="595.2" fill="#129be0" stroke="#129be0"/>
<use href="#st" x="409.9" y="595.2" fill="#129be0" stroke="#129be0"/>
<use href="#st" x="417.7" y="595.2" fill="#129be0" stroke="#129be0"/>
<use href="#st" x="430" y="589.8" fill="#d8281f" stroke="#d8281f"/>
<use href="#st" x="437.8" y="589.8" fill="#d8281f" stroke="#d8281f"/>
<use href="#st" x="445.6" y="589.8" fill="#d8281f" stroke="#d8281f"/>
<use href="#st" x="430" y="598" fill="#129be0" stroke="#129be0"/>
<use href="#st" x="437.8" y="598" fill="#129be0" stroke="#129be0"/>
<use href="#st" x="445.6" y="598" fill="#129be0" stroke="#129be0"/>
<use href="#st" x="457.9" y="588.7" fill="#d8281f" stroke="#d8281f"/>
<use href="#st" x="465.7" y="588.7" fill="#d8281f" stroke="#d8281f"/>
<use href="#st" x="473.5" y="588.7" fill="#d8281f" stroke="#d8281f"/>
<use href="#st" x="457.9" y="598" fill="#129be0" stroke="#129be0"/>
<use href="#st" x="465.7" y="598" fill="#129be0" stroke="#129be0"/>
<use href="#st" x="473.5" y="598" fill="#129be0" stroke="#129be0"/>
<use href="#st" x="485.8" y="586.3" fill="#d8281f" stroke="#d8281f"/>
<use href="#st" x="493.6" y="586.3" fill="#d8281f" stroke="#d8281f"/>
<use href="#st" x="501.4" y="586.3" fill="#d8281f" stroke="#d8281f"/>
<use href="#st" x="485.8" y="594" fill="#129be0" stroke="#129be0"/>
<use href="#st" x="493.6" y="594" fill="#129be0" stroke="#129be0"/>
<use href="#st" x="501.4" y="594" fill="#129be0" stroke="#129be0"/>
<use href="#st" x="513.7" y="588.7" fill="#d8281f" stroke="#d8281f"/>
<use href="#st" x="521.5" y="588.7" fill="#d8281f" stroke="#d8281f"/>
<use href="#st" x="529.3" y="588.7" fill="#d8281f" stroke="#d8281f"/>
<use href="#st" x="513.7" y="596.8" fill="#129be0" stroke="#129be0"/>
<use href="#st" x="521.5" y="596.8" fill="#129be0" stroke="#129be0"/>
<use href="#st" x="529.3" y="596.8" fill="#129be0" stroke="#129be0"/>
<text x="100" y="430.7" text-anchor="middle" class="vl" fill="#857a72">0.1</text>
<text x="98.3" y="526.4" text-anchor="middle" class="vl" fill="#d8281f">-1.0</text>
<text x="98.3" y="540.7" text-anchor="middle" class="vl" fill="#129be0">-0.7</text>
<text x="98.3" y="553" text-anchor="middle" class="vl" fill="#d3d1ca">-0.4</text>
<text x="528.6" y="487.3" class="vl" fill="#857a72">-0.9</text>
<text x="528.6" y="499.4" class="vl" fill="#d3d1ca">-1.1</text>
<text x="528.6" y="563.9" class="vl" fill="#d8281f">-2.5</text>
<text x="528.6" y="574.4" class="vl" fill="#129be0">-2.6</text>
<path d="M569.2 432.8H593" stroke="#857a72" stroke-width="1.2"/>
<circle cx="581.1" cy="432.8" r="4.5" fill="#857a72"/>
<text x="606" y="438.8" class="lg">PBO</text>
<path d="M569.2 461.9H593" stroke="#d3d1ca" stroke-width="1.2"/>
<path d="M576.8 461.9H585.4M581.1 457.6V466.2" stroke="#d3d1ca" stroke-width="2" fill="none"/>
<text x="606" y="467.9" class="lg">Bari 1-mg</text>
<path d="M569.2 491H593" stroke="#129be0" stroke-width="1.2"/>
<path d="M581.1 486.3L585.8 491L581.1 495.7L576.4 491Z" fill="#129be0"/>
<text x="606" y="497" class="lg">Bari 2-mg</text>
<path d="M569.2 520.1H593" stroke="#d8281f" stroke-width="1.2"/>
<rect x="576.6" y="515.6" width="9" height="9" fill="#d8281f"/>
<text x="606" y="526.1" class="lg">Bari 4-mg</text>
<text x="296.5" y="761" text-anchor="middle" class="tt">BREEZE-AD7</text>
<text transform="translate(14.2 793.8) scale(1.03 1)" class="lt" style="font-size:40px">C</text>
<text transform="translate(16.2 897.05) rotate(-90)" text-anchor="middle" class="yl">LSM Change From</text>
<text transform="translate(37.8 897.05) rotate(-90)" text-anchor="middle" class="yl">Baseline ± SE</text>
<path d="M73.9 788.7V1006.9M72.4 1005.4H521.8" stroke="#000" stroke-width="3" fill="none"/>
<path d="M73.9 1005.4v9.5M101.8 1005.4v9.5M129.7 1005.4v9.5M157.6 1005.4v9.5M185.5 1005.4v9.5M213.4 1005.4v9.5M241.3 1005.4v9.5M269.2 1005.4v9.5M297.1 1005.4v9.5M325 1005.4v9.5M352.9 1005.4v9.5M380.8 1005.4v9.5M408.7 1005.4v9.5M436.6 1005.4v9.5M464.5 1005.4v9.5M492.4 1005.4v9.5M520.3 1005.4v9.5M73.9 811.5h-9.5M73.9 854.6h-9.5M73.9 897.7h-9.5M73.9 940.8h-9.5M73.9 983.9h-9.5" stroke="#000" stroke-width="3" fill="none"/>
<text transform="translate(74.2 1033) scale(1 1.07)" text-anchor="middle" class="tk">0</text>
<text transform="translate(102.1 1033) scale(1 1.07)" text-anchor="middle" class="tk">1</text>
<text transform="translate(130 1033) scale(1 1.07)" text-anchor="middle" class="tk">2</text>
<text transform="translate(157.9 1033) scale(1 1.07)" text-anchor="middle" class="tk">3</text>
<text transform="translate(185.8 1033) scale(1 1.07)" text-anchor="middle" class="tk">4</text>
<text transform="translate(213.7 1033) scale(1 1.07)" text-anchor="middle" class="tk">5</text>
<text transform="translate(241.6 1033) scale(1 1.07)" text-anchor="middle" class="tk">6</text>
<text transform="translate(269.5 1033) scale(1 1.07)" text-anchor="middle" class="tk">7</text>
<text transform="translate(297.4 1033) scale(1 1.07)" text-anchor="middle" class="tk">8</text>
<text transform="translate(325.3 1033) scale(1 1.07)" text-anchor="middle" class="tk">9</text>
<text transform="translate(353.2 1033) scale(1 1.07)" text-anchor="middle" class="tk">10</text>
<text transform="translate(381.1 1033) scale(1 1.07)" text-anchor="middle" class="tk">11</text>
<text transform="translate(409 1033) scale(1 1.07)" text-anchor="middle" class="tk">12</text>
<text transform="translate(436.9 1033) scale(1 1.07)" text-anchor="middle" class="tk">13</text>
<text transform="translate(464.8 1033) scale(1 1.07)" text-anchor="middle" class="tk">14</text>
<text transform="translate(492.7 1033) scale(1 1.07)" text-anchor="middle" class="tk">15</text>
<text transform="translate(520.6 1033) scale(1 1.07)" text-anchor="middle" class="tk">16</text>
<text transform="translate(61.6 817.5) scale(1 1.07)" text-anchor="end" class="tk">0</text>
<text transform="translate(61.6 860.6) scale(1 1.07)" text-anchor="end" class="tk">-1</text>
<text transform="translate(61.6 903.7) scale(1 1.07)" text-anchor="end" class="tk">-2</text>
<text transform="translate(61.6 946.8) scale(1 1.07)" text-anchor="end" class="tk">-3</text>
<text transform="translate(61.6 989.9) scale(1 1.07)" text-anchor="end" class="tk">-4</text>
<text x="297" y="1058.9" text-anchor="middle" class="wk">Weeks</text>
<path d="M80.2 811.8H515" stroke="#000" stroke-width="2.3" stroke-linecap="round" stroke-dasharray="0.01 6.468" fill="none"/>
<polyline points="73.9,811.5 101.8,887.14 129.7,948.99 157.6,969.25 185.5,976.57 213.4,973.99 241.3,974.85 269.2,972.26 297.1,970.97 325,977.87 352.9,977.43 380.8,975.71 408.7,972.69 436.6,977.43 464.5,973.12 492.4,973.99 520.3,971.83" stroke="#d8281f" stroke-width="1.2" fill="none"/>
<polyline points="73.9,811.5 101.8,874.86 129.7,922.7 157.6,940.15 185.5,948.99 213.4,954.59 241.3,954.59 269.2,951.14 297.1,945.11 325,951.14 352.9,953.3 380.8,950.28 408.7,945.97 436.6,955.45 464.5,953.3 492.4,952.87 520.3,949.85" stroke="#129be0" stroke-width="1.2" fill="none"/>
<polyline points="73.9,811.5 101.8,850.94 129.7,882.62 157.6,889.51 185.5,884.34 213.4,890.8 241.3,892.53 269.2,888.65 297.1,887.36 325,894.25 352.9,901.15 380.8,900.72 408.7,898.56 436.6,899.86 464.5,898.56 492.4,900.72 520.3,900.29" stroke="#857a72" stroke-width="1.2" fill="none"/>
<path d="M101.8 883.14V891.14M97.4 883.14h8.8M97.4 891.14h8.8M129.7 941.19V956.79M125.3 941.19h8.8M125.3 956.79h8.8M157.6 960.85V977.65M153.2 960.85h8.8M153.2 977.65h8.8M185.5 968.17V984.97M181.1 968.17h8.8M181.1 984.97h8.8M213.4 964.99V982.99M209 964.99h8.8M209 982.99h8.8M241.3 965.95V983.75M236.9 965.95h8.8M236.9 983.75h8.8M269.2 963.26V981.26M264.8 963.26h8.8M264.8 981.26h8.8M297.1 961.97V979.97M292.7 961.97h8.8M292.7 979.97h8.8M325 968.87V986.87M320.6 968.87h8.8M320.6 986.87h8.8M352.9 968.63V986.23M348.5 968.63h8.8M348.5 986.23h8.8M380.8 966.71V984.71M376.4 966.71h8.8M376.4 984.71h8.8M408.7 963.39V981.99M404.3 963.39h8.8M404.3 981.99h8.8M436.6 968.33V986.53M432.2 968.33h8.8M432.2 986.53h8.8M464.5 963.92V982.33M460.1 963.92h8.8M460.1 982.33h8.8M492.4 964.39V983.59M488 964.39h8.8M488 983.59h8.8M520.3 962.13V981.53M515.9 962.13h8.8M515.9 981.53h8.8" stroke="#d8281f" stroke-width="1.45" fill="none"/>
<rect x="69.4" y="807" width="9" height="9" fill="#d8281f"/>
<rect x="97.3" y="882.64" width="9" height="9" fill="#d8281f"/>
<rect x="125.2" y="944.49" width="9" height="9" fill="#d8281f"/>
<rect x="153.1" y="964.75" width="9" height="9" fill="#d8281f"/>
<rect x="181" y="972.07" width="9" height="9" fill="#d8281f"/>
<rect x="208.9" y="969.49" width="9" height="9" fill="#d8281f"/>
<rect x="236.8" y="970.35" width="9" height="9" fill="#d8281f"/>
<rect x="264.7" y="967.76" width="9" height="9" fill="#d8281f"/>
<rect x="292.6" y="966.47" width="9" height="9" fill="#d8281f"/>
<rect x="320.5" y="973.37" width="9" height="9" fill="#d8281f"/>
<rect x="348.4" y="972.93" width="9" height="9" fill="#d8281f"/>
<rect x="376.3" y="971.21" width="9" height="9" fill="#d8281f"/>
<rect x="404.2" y="968.19" width="9" height="9" fill="#d8281f"/>
<rect x="432.1" y="972.93" width="9" height="9" fill="#d8281f"/>
<rect x="460" y="968.62" width="9" height="9" fill="#d8281f"/>
<rect x="487.9" y="969.49" width="9" height="9" fill="#d8281f"/>
<rect x="515.8" y="967.33" width="9" height="9" fill="#d8281f"/>
<path d="M101.8 869.86V879.86M97.4 869.86h8.8M97.4 879.86h8.8M129.7 914.5V930.9M125.3 914.5h8.8M125.3 930.9h8.8M157.6 931.75V948.55M153.2 931.75h8.8M153.2 948.55h8.8M185.5 940.59V957.39M181.1 940.59h8.8M181.1 957.39h8.8M213.4 945.79V963.39M209 945.79h8.8M209 963.39h8.8M241.3 945.39V963.79M236.9 945.39h8.8M236.9 963.79h8.8M269.2 942.34V959.94M264.8 942.34h8.8M264.8 959.94h8.8M297.1 936.11V954.11M292.7 936.11h8.8M292.7 954.11h8.8M325 942.34V959.94M320.6 942.34h8.8M320.6 959.94h8.8M352.9 944.3V962.3M348.5 944.3h8.8M348.5 962.3h8.8M380.8 941.38V959.18M376.4 941.38h8.8M376.4 959.18h8.8M408.7 936.87V955.07M404.3 936.87h8.8M404.3 955.07h8.8M436.6 946.15V964.75M432.2 946.15h8.8M432.2 964.75h8.8M464.5 944V962.6M460.1 944h8.8M460.1 962.6h8.8M492.4 943.27V962.47M488 943.27h8.8M488 962.47h8.8M520.3 940.15V959.55M515.9 940.15h8.8M515.9 959.55h8.8" stroke="#129be0" stroke-width="1.45" fill="none"/>
<path d="M73.9 806.8L78.6 811.5L73.9 816.2L69.2 811.5Z" fill="#129be0"/>
<path d="M101.8 870.16L106.5 874.86L101.8 879.56L97.1 874.86Z" fill="#129be0"/>
<path d="M129.7 918L134.4 922.7L129.7 927.4L125 922.7Z" fill="#129be0"/>
<path d="M157.6 935.45L162.3 940.15L157.6 944.85L152.9 940.15Z" fill="#129be0"/>
<path d="M185.5 944.29L190.2 948.99L185.5 953.69L180.8 948.99Z" fill="#129be0"/>
<path d="M213.4 949.89L218.1 954.59L213.4 959.29L208.7 954.59Z" fill="#129be0"/>
<path d="M241.3 949.89L246 954.59L241.3 959.29L236.6 954.59Z" fill="#129be0"/>
<path d="M269.2 946.44L273.9 951.14L269.2 955.84L264.5 951.14Z" fill="#129be0"/>
<path d="M297.1 940.41L301.8 945.11L297.1 949.81L292.4 945.11Z" fill="#129be0"/>
<path d="M325 946.44L329.7 951.14L325 955.84L320.3 951.14Z" fill="#129be0"/>
<path d="M352.9 948.6L357.6 953.3L352.9 958L348.2 953.3Z" fill="#129be0"/>
<path d="M380.8 945.58L385.5 950.28L380.8 954.98L376.1 950.28Z" fill="#129be0"/>
<path d="M408.7 941.27L413.4 945.97L408.7 950.67L404 945.97Z" fill="#129be0"/>
<path d="M436.6 950.75L441.3 955.45L436.6 960.15L431.9 955.45Z" fill="#129be0"/>
<path d="M464.5 948.6L469.2 953.3L464.5 958L459.8 953.3Z" fill="#129be0"/>
<path d="M492.4 948.17L497.1 952.87L492.4 957.57L487.7 952.87Z" fill="#129be0"/>
<path d="M520.3 945.15L525 949.85L520.3 954.55L515.6 949.85Z" fill="#129be0"/>
<path d="M101.8 845.94V855.94M97.4 845.94h8.8M97.4 855.94h8.8M129.7 874.62V890.62M125.3 874.62h8.8M125.3 890.62h8.8M157.6 881.31V897.71M153.2 881.31h8.8M153.2 897.71h8.8M185.5 875.64V893.04M181.1 875.64h8.8M181.1 893.04h8.8M213.4 881.8V899.8M209 881.8h8.8M209 899.8h8.8M241.3 883.53V901.53M236.9 883.53h8.8M236.9 901.53h8.8M269.2 879.55V897.75M264.8 879.55h8.8M264.8 897.75h8.8M297.1 878.46V896.26M292.7 878.46h8.8M292.7 896.26h8.8M325 885.35V903.15M320.6 885.35h8.8M320.6 903.15h8.8M352.9 891.85V910.45M348.5 891.85h8.8M348.5 910.45h8.8M380.8 891.42V910.02M376.4 891.42h8.8M376.4 910.02h8.8M408.7 889.26V907.86M404.3 889.26h8.8M404.3 907.86h8.8M436.6 890.36V909.36M432.2 890.36h8.8M432.2 909.36h8.8M464.5 889.06V908.06M460.1 889.06h8.8M460.1 908.06h8.8M492.4 890.82V910.62M488 890.82h8.8M488 910.62h8.8M520.3 890.29V910.29M515.9 890.29h8.8M515.9 910.29h8.8" stroke="#857a72" stroke-width="1.45" fill="none"/>
<circle cx="73.9" cy="811.5" r="4.5" fill="#857a72"/>
<circle cx="101.8" cy="850.94" r="4.5" fill="#857a72"/>
<circle cx="129.7" cy="882.62" r="4.5" fill="#857a72"/>
<circle cx="157.6" cy="889.51" r="4.5" fill="#857a72"/>
<circle cx="185.5" cy="884.34" r="4.5" fill="#857a72"/>
<circle cx="213.4" cy="890.8" r="4.5" fill="#857a72"/>
<circle cx="241.3" cy="892.53" r="4.5" fill="#857a72"/>
<circle cx="269.2" cy="888.65" r="4.5" fill="#857a72"/>
<circle cx="297.1" cy="887.36" r="4.5" fill="#857a72"/>
<circle cx="325" cy="894.25" r="4.5" fill="#857a72"/>
<circle cx="352.9" cy="901.15" r="4.5" fill="#857a72"/>
<circle cx="380.8" cy="900.72" r="4.5" fill="#857a72"/>
<circle cx="408.7" cy="898.56" r="4.5" fill="#857a72"/>
<circle cx="436.6" cy="899.86" r="4.5" fill="#857a72"/>
<circle cx="464.5" cy="898.56" r="4.5" fill="#857a72"/>
<circle cx="492.4" cy="900.72" r="4.5" fill="#857a72"/>
<circle cx="520.3" cy="900.29" r="4.5" fill="#857a72"/>
<use href="#st" x="101.5" y="864.6" fill="#129be0" stroke="#129be0"/>
<use href="#st" x="109.3" y="864.6" fill="#129be0" stroke="#129be0"/>
<use href="#st" x="91.4" y="902" fill="#d8281f" stroke="#d8281f"/>
<use href="#st" x="99.2" y="902" fill="#d8281f" stroke="#d8281f"/>
<use href="#st" x="107" y="902" fill="#d8281f" stroke="#d8281f"/>
<use href="#st" x="124.9" y="906.5" fill="#129be0" stroke="#129be0"/>
<use href="#st" x="132.7" y="906.5" fill="#129be0" stroke="#129be0"/>
<use href="#st" x="140.5" y="906.5" fill="#129be0" stroke="#129be0"/>
<use href="#st" x="122.7" y="970.3" fill="#d8281f" stroke="#d8281f"/>
<use href="#st" x="130.5" y="970.3" fill="#d8281f" stroke="#d8281f"/>
<use href="#st" x="138.3" y="970.3" fill="#d8281f" stroke="#d8281f"/>
<use href="#st" x="151.7" y="926.5" fill="#129be0" stroke="#129be0"/>
<use href="#st" x="159.5" y="926.5" fill="#129be0" stroke="#129be0"/>
<use href="#st" x="167.3" y="926.5" fill="#129be0" stroke="#129be0"/>
<use href="#st" x="150.7" y="986.2" fill="#d8281f" stroke="#d8281f"/>
<use href="#st" x="158.5" y="986.2" fill="#d8281f" stroke="#d8281f"/>
<use href="#st" x="166.3" y="986.2" fill="#d8281f" stroke="#d8281f"/>
<use href="#st" x="179.3" y="932.5" fill="#129be0" stroke="#129be0"/>
<use href="#st" x="187.1" y="932.5" fill="#129be0" stroke="#129be0"/>
<use href="#st" x="194.9" y="932.5" fill="#129be0" stroke="#129be0"/>
<use href="#st" x="177.7" y="994.6" fill="#d8281f" stroke="#d8281f"/>
<use href="#st" x="185.5" y="994.6" fill="#d8281f" stroke="#d8281f"/>
<use href="#st" x="193.3" y="994.6" fill="#d8281f" stroke="#d8281f"/>
<use href="#st" x="206.8" y="938.3" fill="#129be0" stroke="#129be0"/>
<use href="#st" x="214.6" y="938.3" fill="#129be0" stroke="#129be0"/>
<use href="#st" x="222.4" y="938.3" fill="#129be0" stroke="#129be0"/>
<use href="#st" x="206.8" y="994.8" fill="#d8281f" stroke="#d8281f"/>
<use href="#st" x="214.6" y="994.8" fill="#d8281f" stroke="#d8281f"/>
<use href="#st" x="222.4" y="994.8" fill="#d8281f" stroke="#d8281f"/>
<use href="#st" x="234.7" y="937.1" fill="#129be0" stroke="#129be0"/>
<use href="#st" x="242.5" y="937.1" fill="#129be0" stroke="#129be0"/>
<use href="#st" x="250.3" y="937.1" fill="#129be0" stroke="#129be0"/>
<use href="#st" x="234.7" y="996.5" fill="#d8281f" stroke="#d8281f"/>
<use href="#st" x="242.5" y="996.5" fill="#d8281f" stroke="#d8281f"/>
<use href="#st" x="250.3" y="996.5" fill="#d8281f" stroke="#d8281f"/>
<use href="#st" x="262.6" y="932.9" fill="#129be0" stroke="#129be0"/>
<use href="#st" x="270.4" y="932.9" fill="#129be0" stroke="#129be0"/>
<use href="#st" x="278.2" y="932.9" fill="#129be0" stroke="#129be0"/>
<use href="#st" x="262.6" y="994.1" fill="#d8281f" stroke="#d8281f"/>
<use href="#st" x="270.4" y="994.1" fill="#d8281f" stroke="#d8281f"/>
<use href="#st" x="278.2" y="994.1" fill="#d8281f" stroke="#d8281f"/>
<use href="#st" x="290.5" y="926.4" fill="#129be0" stroke="#129be0"/>
<use href="#st" x="298.3" y="926.4" fill="#129be0" stroke="#129be0"/>
<use href="#st" x="306.1" y="926.4" fill="#129be0" stroke="#129be0"/>
<use href="#st" x="290.5" y="994.8" fill="#d8281f" stroke="#d8281f"/>
<use href="#st" x="298.3" y="994.8" fill="#d8281f" stroke="#d8281f"/>
<use href="#st" x="306.1" y="994.8" fill="#d8281f" stroke="#d8281f"/>
<use href="#st" x="318.4" y="934.8" fill="#129be0" stroke="#129be0"/>
<use href="#st" x="326.2" y="934.8" fill="#129be0" stroke="#129be0"/>
<use href="#st" x="334" y="934.8" fill="#129be0" stroke="#129be0"/>
<use href="#st" x="318.4" y="996.5" fill="#d8281f" stroke="#d8281f"/>
<use href="#st" x="326.2" y="996.5" fill="#d8281f" stroke="#d8281f"/>
<use href="#st" x="334" y="996.5" fill="#d8281f" stroke="#d8281f"/>
<use href="#st" x="346.3" y="938.1" fill="#129be0" stroke="#129be0"/>
<use href="#st" x="354.1" y="938.1" fill="#129be0" stroke="#129be0"/>
<use href="#st" x="361.9" y="938.1" fill="#129be0" stroke="#129be0"/>
<use href="#st" x="346.3" y="995.3" fill="#d8281f" stroke="#d8281f"/>
<use href="#st" x="354.1" y="995.3" fill="#d8281f" stroke="#d8281f"/>
<use href="#st" x="361.9" y="995.3" fill="#d8281f" stroke="#d8281f"/>
<use href="#st" x="374.2" y="933.6" fill="#129be0" stroke="#129be0"/>
<use href="#st" x="382" y="933.6" fill="#129be0" stroke="#129be0"/>
<use href="#st" x="389.8" y="933.6" fill="#129be0" stroke="#129be0"/>
<use href="#st" x="374.2" y="994.1" fill="#d8281f" stroke="#d8281f"/>
<use href="#st" x="382" y="994.1" fill="#d8281f" stroke="#d8281f"/>
<use href="#st" x="389.8" y="994.1" fill="#d8281f" stroke="#d8281f"/>
<use href="#st" x="402.1" y="930.6" fill="#129be0" stroke="#129be0"/>
<use href="#st" x="409.9" y="930.6" fill="#129be0" stroke="#129be0"/>
<use href="#st" x="417.7" y="930.6" fill="#129be0" stroke="#129be0"/>
<use href="#st" x="402.1" y="996.5" fill="#d8281f" stroke="#d8281f"/>
<use href="#st" x="409.9" y="996.5" fill="#d8281f" stroke="#d8281f"/>
<use href="#st" x="417.7" y="996.5" fill="#d8281f" stroke="#d8281f"/>
<use href="#st" x="430" y="938.1" fill="#129be0" stroke="#129be0"/>
<use href="#st" x="437.8" y="938.1" fill="#129be0" stroke="#129be0"/>
<use href="#st" x="445.6" y="938.1" fill="#129be0" stroke="#129be0"/>
<use href="#st" x="430" y="997.9" fill="#d8281f" stroke="#d8281f"/>
<use href="#st" x="437.8" y="997.9" fill="#d8281f" stroke="#d8281f"/>
<use href="#st" x="445.6" y="997.9" fill="#d8281f" stroke="#d8281f"/>
<use href="#st" x="457.9" y="938.1" fill="#129be0" stroke="#129be0"/>
<use href="#st" x="465.7" y="938.1" fill="#129be0" stroke="#129be0"/>
<use href="#st" x="473.5" y="938.1" fill="#129be0" stroke="#129be0"/>
<use href="#st" x="457.9" y="996" fill="#d8281f" stroke="#d8281f"/>
<use href="#st" x="465.7" y="996" fill="#d8281f" stroke="#d8281f"/>
<use href="#st" x="473.5" y="996" fill="#d8281f" stroke="#d8281f"/>
<use href="#st" x="485.8" y="937.1" fill="#129be0" stroke="#129be0"/>
<use href="#st" x="493.6" y="937.1" fill="#129be0" stroke="#129be0"/>
<use href="#st" x="501.4" y="937.1" fill="#129be0" stroke="#129be0"/>
<use href="#st" x="485.8" y="996" fill="#d8281f" stroke="#d8281f"/>
<use href="#st" x="493.6" y="996" fill="#d8281f" stroke="#d8281f"/>
<use href="#st" x="501.4" y="996" fill="#d8281f" stroke="#d8281f"/>
<use href="#st" x="513.7" y="933.6" fill="#129be0" stroke="#129be0"/>
<use href="#st" x="521.5" y="933.6" fill="#129be0" stroke="#129be0"/>
<use href="#st" x="529.3" y="933.6" fill="#129be0" stroke="#129be0"/>
<use href="#st" x="513.7" y="991.8" fill="#d8281f" stroke="#d8281f"/>
<use href="#st" x="521.5" y="991.8" fill="#d8281f" stroke="#d8281f"/>
<use href="#st" x="529.3" y="991.8" fill="#d8281f" stroke="#d8281f"/>
<text x="104" y="839.6" text-anchor="middle" class="vl" fill="#857a72">-0.9</text>
<text x="98.3" y="917.8" text-anchor="middle" class="vl" fill="#d8281f">-1.7</text>
<text x="98.3" y="930.7" text-anchor="middle" class="vl" fill="#129be0">-1.5</text>
<text x="528.6" y="904.4" class="vl" fill="#857a72">-2.1</text>
<text x="528.6" y="955.1" class="vl" fill="#129be0">-3.2</text>
<text x="528.6" y="976.1" class="vl" fill="#d8281f">-3.7</text>
<path d="M513.6 804.4H536.5" stroke="#857a72" stroke-width="1.2"/>
<circle cx="525.05" cy="804.4" r="4.5" fill="#857a72"/>
<text x="550" y="810.4" class="lg">PBO + TCS</text>
<path d="M513.6 833.45H536.5" stroke="#129be0" stroke-width="1.2"/>
<path d="M525.05 828.75L529.75 833.45L525.05 838.15L520.35 833.45Z" fill="#129be0"/>
<text x="550" y="839.45" class="lg">Bari 2-mg + TCS</text>
<path d="M513.6 862.5H536.5" stroke="#d8281f" stroke-width="1.2"/>
<rect x="520.55" y="858" width="9" height="9" fill="#d8281f"/>
<text x="550" y="868.5" class="lg">Bari 4-mg + TCS</text>
</svg>
</body></html>
